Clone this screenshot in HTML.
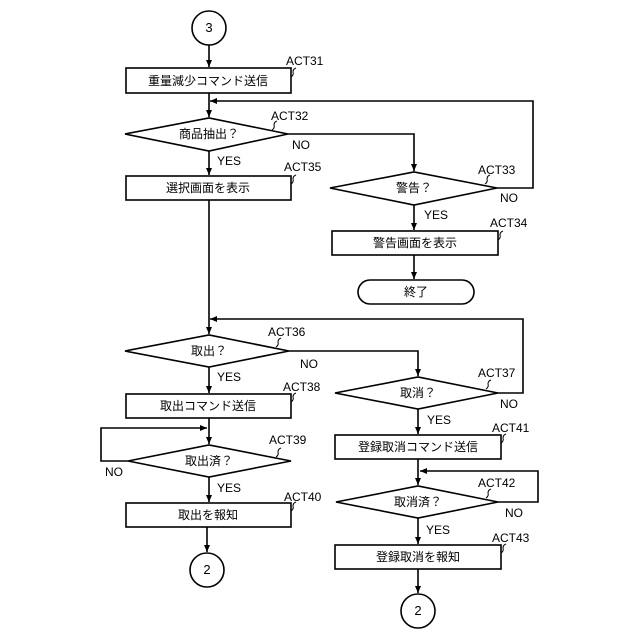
<!DOCTYPE html>
<html><head><meta charset="utf-8"><style>body{margin:0;background:#fff}svg{display:block}</style></head><body>
<svg width="640" height="640" viewBox="0 0 640 640" xmlns="http://www.w3.org/2000/svg" font-family="Liberation Sans, Noto Sans CJK JP, sans-serif" font-size="12">
<defs><marker id="a" markerWidth="8" markerHeight="8" refX="7" refY="4" orient="auto" markerUnits="userSpaceOnUse"><path d="M0,1 L7,4 L0,7z" fill="#000"/></marker></defs>
<g fill="none" stroke="#000" stroke-width="1.6">
<circle cx="209" cy="28" r="17"/>
<line x1="209" y1="45" x2="209" y2="67" marker-end="url(#a)"/>
<rect x="126" y="68" width="165" height="25"/>
<line x1="209" y1="93" x2="209" y2="117" marker-end="url(#a)"/>
<polyline points="497,188 533,188 533,101 210,101" marker-end="url(#a)"/>
<polygon points="125,134 209,118 288,134 209,151"/>
<polyline points="288,134 414,134 414,171" marker-end="url(#a)"/>
<polygon points="330,188 414,172 497,188 414,205"/>
<line x1="209" y1="151" x2="209" y2="175" marker-end="url(#a)"/>
<rect x="126" y="176" width="165" height="24"/>
<line x1="414" y1="205" x2="414" y2="230" marker-end="url(#a)"/>
<rect x="332" y="231" width="166" height="24"/>
<line x1="414" y1="255" x2="414" y2="279" marker-end="url(#a)"/>
<rect x="358" y="280" width="116" height="24" rx="12"/>
<line x1="209" y1="200" x2="209" y2="334" marker-end="url(#a)"/>
<polyline points="498,393 523,393 523,319 210,319" marker-end="url(#a)"/>
<polygon points="125,351 209,335 289,351 209,367"/>
<polyline points="289,351 418,351 418,376" marker-end="url(#a)"/>
<polygon points="335,393 418,377 498,393 418,409"/>
<line x1="209" y1="367" x2="209" y2="393" marker-end="url(#a)"/>
<rect x="126" y="394" width="165" height="24"/>
<line x1="209" y1="418" x2="209" y2="444" marker-end="url(#a)"/>
<polyline points="128,461 101,461 101,428 207,428" marker-end="url(#a)"/>
<polygon points="128,461 209,445 291,461 209,477"/>
<line x1="209" y1="477" x2="209" y2="502" marker-end="url(#a)"/>
<rect x="126" y="503" width="165" height="24"/>
<line x1="207" y1="527" x2="207" y2="552" marker-end="url(#a)"/>
<circle cx="207" cy="570" r="17"/>
<line x1="418" y1="409" x2="418" y2="434" marker-end="url(#a)"/>
<rect x="335" y="435" width="166" height="24"/>
<line x1="418" y1="459" x2="418" y2="485" marker-end="url(#a)"/>
<polyline points="498,502 538,502 538,471 420,471" marker-end="url(#a)"/>
<polygon points="336,502 418,486 498,502 418,518"/>
<line x1="418" y1="518" x2="418" y2="544" marker-end="url(#a)"/>
<rect x="335" y="545" width="166" height="24"/>
<line x1="418" y1="569" x2="418" y2="593" marker-end="url(#a)"/>
<circle cx="418" cy="611" r="17"/>
<g stroke-width="1">
<path d="M291,77 q3,-2 2,-5 q0,-3 3,-4"/>
<path d="M272,130 q3,-2 2,-5 q0,-3 3,-4"/>
<path d="M485,184 q3,-2 2,-5 q0,-3 3,-4"/>
<path d="M498,240 q3,-2 2,-5 q0,-3 3,-4"/>
<path d="M291,184 q3,-2 2,-5 q0,-3 3,-4"/>
<path d="M276,347 q3,-2 2,-5 q0,-3 3,-4"/>
<path d="M486,389 q3,-2 2,-5 q0,-3 3,-4"/>
<path d="M291,402 q3,-2 2,-5 q0,-3 3,-4"/>
<path d="M276,457 q3,-2 2,-5 q0,-3 3,-4"/>
<path d="M291,511 q3,-2 2,-5 q0,-3 3,-4"/>
<path d="M501,443 q3,-2 2,-5 q0,-3 3,-4"/>
<path d="M486,498 q3,-2 2,-5 q0,-3 3,-4"/>
<path d="M501,553 q3,-2 2,-5 q0,-3 3,-4"/>
</g>
</g>
<g fill="#000" text-anchor="middle">
<text x="209" y="32" font-size="13">3</text>
<text x="208" y="85">重量減少コマンド送信</text>
<text x="209" y="138">商品抽出？</text>
<text x="208" y="192">選択画面を表示</text>
<text x="414" y="192">警告？</text>
<text x="415" y="247">警告画面を表示</text>
<text x="416" y="296">終了</text>
<text x="209" y="355">取出？</text>
<text x="208" y="410">取出コマンド送信</text>
<text x="209" y="465">取出済？</text>
<text x="208" y="519">取出を報知</text>
<text x="207" y="574" font-size="13">2</text>
<text x="418" y="397">取消？</text>
<text x="418" y="451">登録取消コマンド送信</text>
<text x="418" y="506">取消済？</text>
<text x="418" y="561">登録取消を報知</text>
<text x="418" y="615" font-size="13">2</text>
</g>
<g fill="#000">
<text x="286" y="65">ACT31</text>
<text x="271" y="120">ACT32</text>
<text x="478" y="174">ACT33</text>
<text x="490" y="227">ACT34</text>
<text x="284" y="171">ACT35</text>
<text x="268" y="336">ACT36</text>
<text x="478" y="377">ACT37</text>
<text x="283" y="391">ACT38</text>
<text x="269" y="444">ACT39</text>
<text x="284" y="501">ACT40</text>
<text x="492" y="432">ACT41</text>
<text x="478" y="487">ACT42</text>
<text x="492" y="542">ACT43</text>
<text x="292" y="149">NO</text>
<text x="500" y="202">NO</text>
<text x="300" y="368">NO</text>
<text x="500" y="408">NO</text>
<text x="105" y="476">NO</text>
<text x="505" y="517">NO</text>
<text x="217" y="165">YES</text>
<text x="424" y="219">YES</text>
<text x="217" y="381">YES</text>
<text x="427" y="424">YES</text>
<text x="217" y="492">YES</text>
<text x="426" y="534">YES</text>
</g>
</svg>
</body></html>
